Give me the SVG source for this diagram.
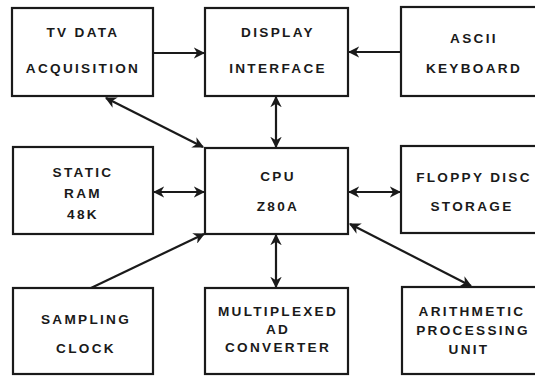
<svg xmlns="http://www.w3.org/2000/svg" width="535" height="378" viewBox="0 0 535 378">
<style>
.box{fill:#fff;stroke:#1a1a1a;stroke-width:2.2}
.t{font-family:"Liberation Sans",Arial,sans-serif;font-size:13.6px;font-weight:bold;letter-spacing:2.3px;fill:#1a1a1a;text-anchor:middle}
.c{stroke:#1a1a1a;stroke-width:2.2;fill:none}
</style>
<defs>
<marker id="ah" viewBox="0 0 10 10" refX="9" refY="5" markerWidth="5.2" markerHeight="5.2" orient="auto-start-reverse" markerUnits="strokeWidth">
<path d="M0,0 L10,5 L0,10 L3,5 z" fill="#1a1a1a"/>
</marker>
</defs>
<rect width="535" height="378" fill="#fff"/>
<g id="connectors">
<line class="c" x1="153" y1="53" x2="204" y2="53" marker-end="url(#ah)"/>
<line class="c" x1="401" y1="52" x2="349" y2="52" marker-end="url(#ah)"/>
<line class="c" x1="276" y1="97" x2="276" y2="147" marker-start="url(#ah)" marker-end="url(#ah)"/>
<line class="c" x1="106" y1="98" x2="203" y2="147" marker-start="url(#ah)" marker-end="url(#ah)"/>
<line class="c" x1="154" y1="192" x2="204" y2="192" marker-start="url(#ah)" marker-end="url(#ah)"/>
<line class="c" x1="91" y1="288" x2="204" y2="234" marker-end="url(#ah)"/>
<line class="c" x1="349" y1="192" x2="400" y2="192" marker-start="url(#ah)" marker-end="url(#ah)"/>
<line class="c" x1="276" y1="235" x2="276" y2="287" marker-start="url(#ah)" marker-end="url(#ah)"/>
<line class="c" x1="350" y1="224" x2="471" y2="286" marker-start="url(#ah)" marker-end="url(#ah)"/>
</g>
<g id="tv">
<rect class="box" x="12" y="8" width="141" height="88"/>
<text class="t" x="83" y="37">TV DATA</text>
<text class="t" x="83" y="73">ACQUISITION</text>
</g>
<g id="display">
<rect class="box" x="205" y="8" width="143" height="88"/>
<text class="t" x="278" y="37">DISPLAY</text>
<text class="t" x="278" y="73">INTERFACE</text>
</g>
<g id="ascii">
<rect class="box" x="401" y="7" width="140" height="89"/>
<text class="t" x="474" y="43">ASCII</text>
<text class="t" x="474" y="73">KEYBOARD</text>
</g>
<g id="ram">
<rect class="box" x="13" y="147" width="140" height="87"/>
<text class="t" x="83" y="177">STATIC</text>
<text class="t" x="83" y="198">RAM</text>
<text class="t" x="83" y="219">48K</text>
</g>
<g id="cpu">
<rect class="box" x="205" y="148" width="143" height="86"/>
<text class="t" x="278" y="181">CPU</text>
<text class="t" x="278" y="211">Z80A</text>
</g>
<g id="floppy">
<rect class="box" x="401" y="146" width="140" height="87"/>
<text class="t" x="474" y="182">FLOPPY DISC</text>
<text class="t" x="472" y="211">STORAGE</text>
</g>
<g id="sampling">
<rect class="box" x="13" y="288" width="140" height="86"/>
<text class="t" x="86" y="324">SAMPLING</text>
<text class="t" x="86" y="353">CLOCK</text>
</g>
<g id="mux">
<rect class="box" x="205" y="288" width="143" height="86"/>
<text class="t" x="278" y="316">MULTIPLEXED</text>
<text class="t" x="278" y="334">AD</text>
<text class="t" x="278" y="352">CONVERTER</text>
</g>
<g id="arith">
<rect class="box" x="402" y="287" width="140" height="87"/>
<text class="t" x="472" y="316">ARITHMETIC</text>
<text class="t" x="473" y="335">PROCESSING</text>
<text class="t" x="469" y="354">UNIT</text>
</g>
</svg>
